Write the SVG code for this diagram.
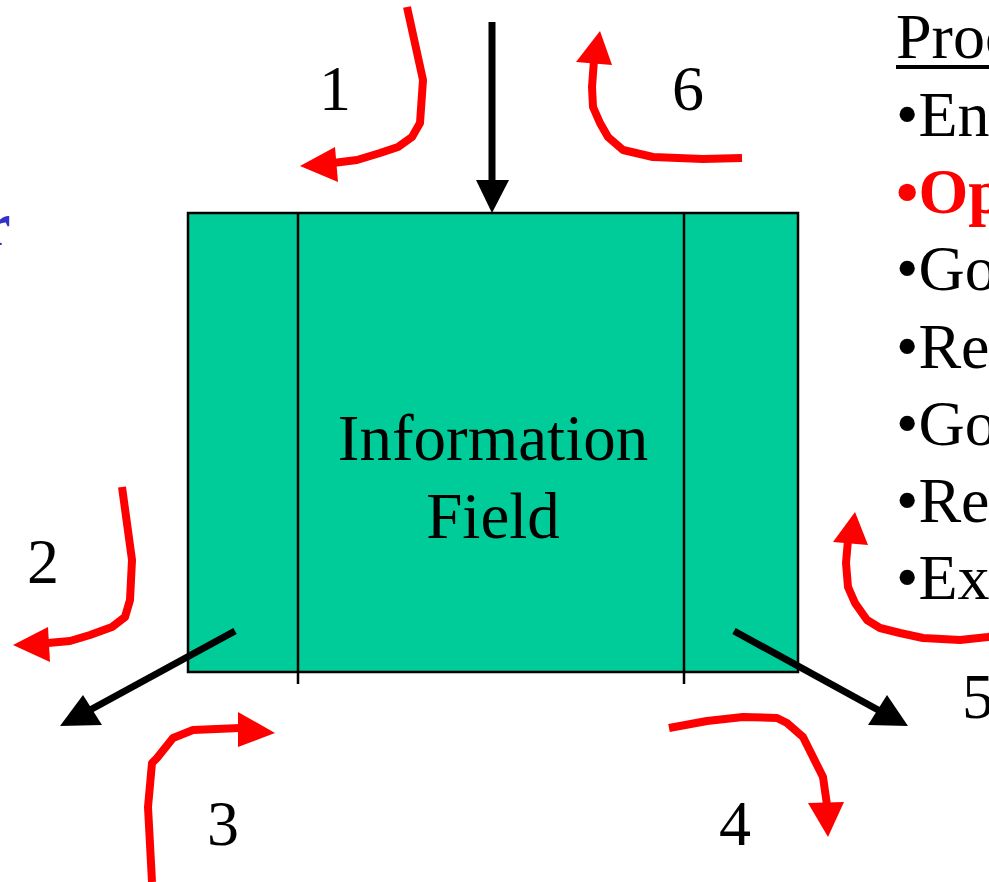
<svg xmlns="http://www.w3.org/2000/svg" width="989" height="882" viewBox="0 0 989 882">
  <style>
    .serif { font-family: "Liberation Serif", "Times New Roman", serif; }
    .num { font-size: 64px; fill: #000; text-anchor: middle; }
    .item { font-size: 64px; fill: #000; }
    .item.hot { fill: #FF0000; font-weight: bold; }
    .flow { fill: none; stroke: #FF0000; stroke-width: 8; stroke-linejoin: round; }
    .flowhead { fill: #FF0000; }
    .io { stroke: #000; stroke-width: 7; fill: none; }
    .iohead { fill: #000; }
  </style>

  <!-- partial blue glyph at the left edge -->
  <text class="serif" x="-17" y="245" font-size="62" font-weight="bold" fill="#3333CC">r</text>

  <!-- central node -->
  <g id="information-field">
    <rect x="188" y="213" width="610" height="459" fill="#00CC99" stroke="#000" stroke-width="2.5"/>
    <line x1="298" y1="213" x2="298" y2="684" stroke="#000" stroke-width="2.5"/>
    <line x1="684" y1="213" x2="684" y2="684" stroke="#000" stroke-width="2.5"/>
    <text class="serif" x="493" y="460" font-size="65" text-anchor="middle">Information</text>
    <text class="serif" x="493" y="538" font-size="65" text-anchor="middle">Field</text>
  </g>

  <!-- connectors -->
  <g id="connectors">
    <!-- black input / output arrows -->
    <line class="io" x1="492" y1="22" x2="492" y2="184"/>
    <polygon class="iohead" points="476,180 509,180 492,213"/>
    <line class="io" x1="235" y1="631" x2="90" y2="710"/>
    <polygon class="iohead" points="60,726 102,725 83,695"/>
    <line class="io" x1="734" y1="631" x2="880" y2="711"/>
    <polygon class="iohead" points="908,726 868,725 887,695"/>

    <!-- red flows -->
    <g id="flow-1">
      <polyline class="flow" points="407,7 423,80 420,123 412,137 398,147 380,153 357,160 333,163"/>
      <polygon class="flowhead" points="300,166 335,147 338,182"/>
    </g>
    <g id="flow-6">
      <polyline class="flow" points="742,158 703,159 653,157 623,150 608,137 600,123 593,107 592,87 594,60"/>
      <polygon class="flowhead" points="600,31 576,62 612,65"/>
    </g>
    <g id="flow-2">
      <polyline class="flow" points="122,487 132,560 130,600 125,617 112,627 90,635 70,641 48,643"/>
      <polygon class="flowhead" points="13,645 48,627 50,662"/>
    </g>
    <g id="flow-3">
      <polyline class="flow" points="152,882 148,807 152,763 157,758 173,738 193,730 240,728"/>
      <polygon class="flowhead" points="275,733 238,712 238,747"/>
    </g>
    <g id="flow-4">
      <polyline class="flow" points="669,728 707,721 743,717 777,718 787,723 803,737 813,757 823,777 827,805"/>
      <polygon class="flowhead" points="808,803 844,802 828,837"/>
    </g>
    <g id="flow-5">
      <polyline class="flow" points="995,636 988,637 960,640 923,638 900,633 880,628 867,620 855,603 848,587 846,563 848,540"/>
      <polygon class="flowhead" points="855,512 833,542 868,545"/>
    </g>
  </g>

  <!-- flow numbers -->
  <g id="labels" class="serif">
    <text class="num" x="335" y="110">1</text>
    <text class="num" x="43" y="583">2</text>
    <text class="num" x="223" y="845">3</text>
    <text class="num" x="735" y="845">4</text>
    <text class="num" x="978" y="718">5</text>
    <text class="num" x="688" y="110">6</text>
  </g>

  <!-- process list -->
  <g id="process-list" class="serif">
    <text class="item" x="896" y="58">Proc</text>
    <rect x="896" y="65" width="100" height="4" fill="#000"/>
    <text class="item" x="896" y="136">•En</text>
    <text class="item hot" x="896" y="213">•Op</text>
    <text class="item" x="896" y="290">•Go</text>
    <text class="item" x="896" y="368">•Re</text>
    <text class="item" x="896" y="445">•Go</text>
    <text class="item" x="896" y="522">•Re</text>
    <text class="item" x="896" y="599">•Ex</text>
  </g>
</svg>
